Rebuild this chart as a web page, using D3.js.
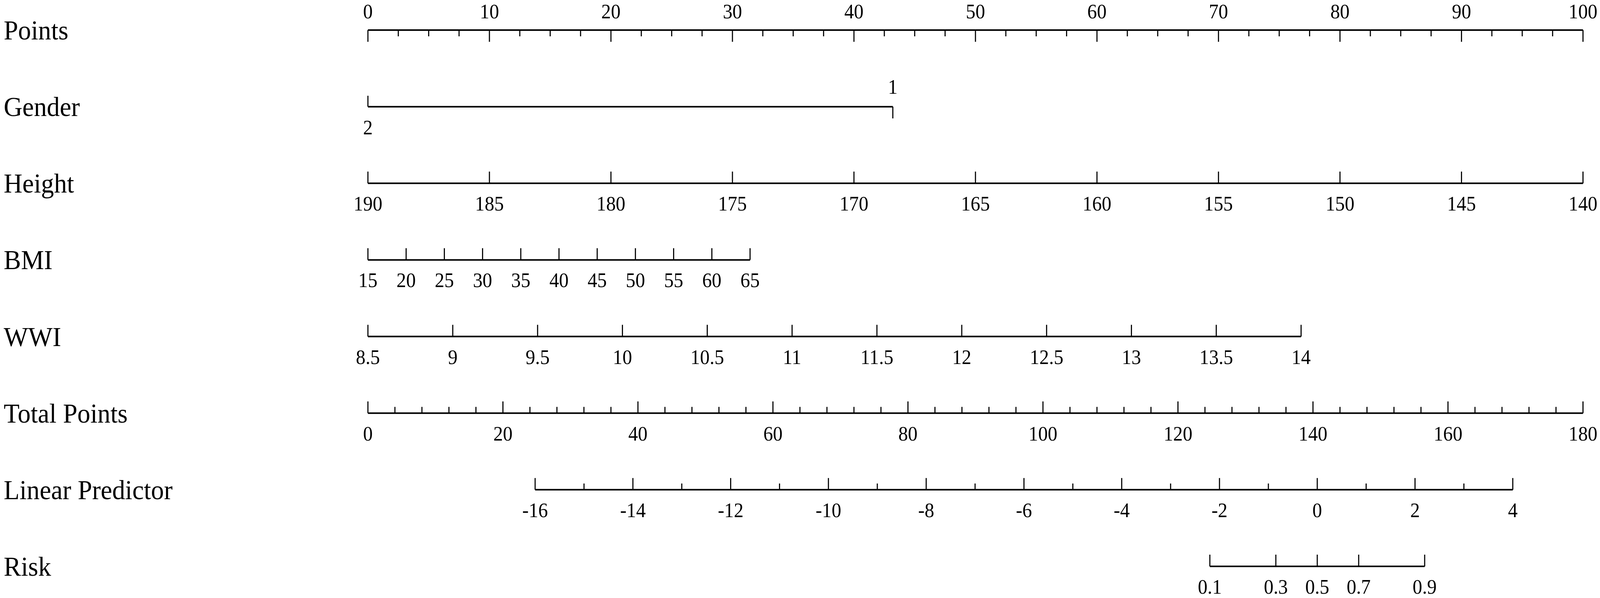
<!DOCTYPE html>
<html>
<head>
<meta charset="utf-8">
<script src="https://cdn.jsdelivr.net/npm/d3@7"></script>
<style>
  html, body { margin: 0; padding: 0; background: #fff; overflow: hidden; }
  svg { display: block; }
  text { font-family: "Liberation Serif", "Times New Roman", serif; fill: #000; }
</style>
</head>
<body>
<div id="chart"></div>
<script>
// nomogram rows, top to bottom
const rows = ['Points', 'Gender', 'Height', 'BMI', 'WWI', 'Total Points', 'Linear Predictor', 'Risk'];

// points axis
const pointsTicks = [0, 10, 20, 30, 40, 50, 60, 70, 80, 90, 100];
const pointsMinorStep = 2.5;

// variable ranges (value -> points)
const genderValues = [2, 1];
const genderPoints = [0, 43.2];
const heightRange = [190, 140];
const heightPoints = [0, 100];
const heightTicks = [190, 185, 180, 175, 170, 165, 160, 155, 150, 145, 140];
const bmiRange = [15, 65];
const bmiPoints = [0, 31.45];
const bmiTicks = [15, 20, 25, 30, 35, 40, 45, 50, 55, 60, 65];
const wwiRange = [8.5, 14];
const wwiPoints = [0, 76.8];
const wwiTicks = [8.5, 9, 9.5, 10, 10.5, 11, 11.5, 12, 12.5, 13, 13.5, 14];

// total points and predictor
const totalTicks = [0, 20, 40, 60, 80, 100, 120, 140, 160, 180];
const totalMinorStep = 4;
const lpRange = [-16, 4];
const lpTotalPoints = [24.77, 169.6];
const lpTicks = [-16, -14, -12, -10, -8, -6, -4, -2, 0, 2, 4];
const lpMinorStep = 1;
const riskTicks = [0.1, 0.3, 0.5, 0.7, 0.9];

const width = 4327, height = 1531;
const labelSize = 70, tickSize = 52;
const majorLen = 30, minorLen = 16;

// drawn in a 4327x1531 box, stretched to whatever the window is
const svg = d3.select('#chart').append('svg')
  .attr('viewBox', `0 0 ${width} ${height}`)
  .attr('preserveAspectRatio', 'none')
  .style('width', '100vw')
  .style('height', '100vh');

const x = d3.scaleLinear().domain([0, 100]).range([995, 4281]);
const xTotal = d3.scaleLinear().domain([0, 180]).range([995, 4281]);
const y = d3.scalePoint().domain(rows).range([77, 1450]);

// row labels
svg.selectAll('.row-label')
  .data(rows)
  .enter()
  .append('text')
  .attr('class', 'row-label')
  .attr('x', 10)
  .attr('y', d => y(d) + 24)
  .attr('font-size', labelSize)
  .text(d => d);

function drawScale(name, px, ticks, opts) {
  const o = Object.assign({ dir: 'up', labels: 'below', minor: [], fmt: d => d }, opts);
  const g = svg.append('g').attr('class', 'scale');
  const y0 = y(name);
  const ext = d3.extent(ticks.concat(o.minor).map(px));
  g.append('line')
    .attr('x1', ext[0]).attr('x2', ext[1])
    .attr('y1', y0).attr('y2', y0)
    .attr('stroke', '#000').attr('stroke-width', 4);
  const sign = o.dir === 'up' ? -1 : 1;
  g.selectAll('.major')
    .data(ticks)
    .enter()
    .append('line')
    .attr('x1', d => px(d)).attr('x2', d => px(d))
    .attr('y1', y0).attr('y2', y0 + sign * majorLen)
    .attr('stroke', '#000').attr('stroke-width', 3);
  g.selectAll('.minor')
    .data(o.minor)
    .enter()
    .append('line')
    .attr('x1', d => px(d)).attr('x2', d => px(d))
    .attr('y1', y0).attr('y2', y0 + sign * minorLen)
    .attr('stroke', '#000').attr('stroke-width', 3);
  g.selectAll('text')
    .data(ticks)
    .enter()
    .append('text')
    .attr('x', d => px(d))
    .attr('y', y0 + (o.labels === 'below' ? 70 : -30))
    .attr('text-anchor', 'middle')
    .attr('font-size', tickSize)
    .text(o.fmt);
  return g;
}

// Points
const pointsMinor = d3.range(0, 100, pointsMinorStep).filter(v => v % 10 !== 0);
drawScale('Points', x, pointsTicks, { dir: 'down', labels: 'above', minor: pointsMinor });

// Gender: two levels, one label above and one below
const genderX = d3.scaleLinear().domain(genderValues).range(genderPoints.map(x));
{
  const y0 = y('Gender');
  const g = svg.append('g');
  g.append('line')
    .attr('x1', genderX(2)).attr('x2', genderX(1))
    .attr('y1', y0).attr('y2', y0)
    .attr('stroke', '#000').attr('stroke-width', 4);
  g.append('line')
    .attr('x1', genderX(2)).attr('x2', genderX(2))
    .attr('y1', y0).attr('y2', y0 - 28)
    .attr('stroke', '#000').attr('stroke-width', 3);
  g.append('line')
    .attr('x1', genderX(1)).attr('x2', genderX(1))
    .attr('y1', y0).attr('y2', y0 + 30)
    .attr('stroke', '#000').attr('stroke-width', 3);
  g.append('text')
    .attr('x', genderX(1)).attr('y', y0 - 33)
    .attr('text-anchor', 'middle').attr('font-size', tickSize)
    .text('1');
  g.append('text')
    .attr('x', genderX(2)).attr('y', y0 + 71)
    .attr('text-anchor', 'middle').attr('font-size', tickSize)
    .text('2');
}

// continuous predictors
const heightX = d3.scaleLinear().domain(heightRange).range(heightPoints.map(x));
drawScale('Height', heightX, heightTicks);

const bmiX = d3.scaleLinear().domain(bmiRange).range(bmiPoints.map(x));
drawScale('BMI', bmiX, bmiTicks);

const wwiX = d3.scaleLinear().domain(wwiRange).range(wwiPoints.map(x));
drawScale('WWI', wwiX, wwiTicks);

// Total Points
const totalMinor = d3.range(0, 180, totalMinorStep).filter(v => v % 20 !== 0);
drawScale('Total Points', xTotal, totalTicks, { minor: totalMinor });

// Linear Predictor
const lpX = d3.scaleLinear().domain(lpRange).range(lpTotalPoints.map(xTotal));
const lpMinor = d3.range(lpRange[0], lpRange[1], lpMinorStep).filter(v => v % 2 !== 0);
drawScale('Linear Predictor', lpX, lpTicks, { minor: lpMinor });

// Risk on the logit of the linear predictor
const riskX = p => lpX(Math.log(p / (1 - p)));
drawScale('Risk', riskX, riskTicks);
</script>
</body>
</html>
